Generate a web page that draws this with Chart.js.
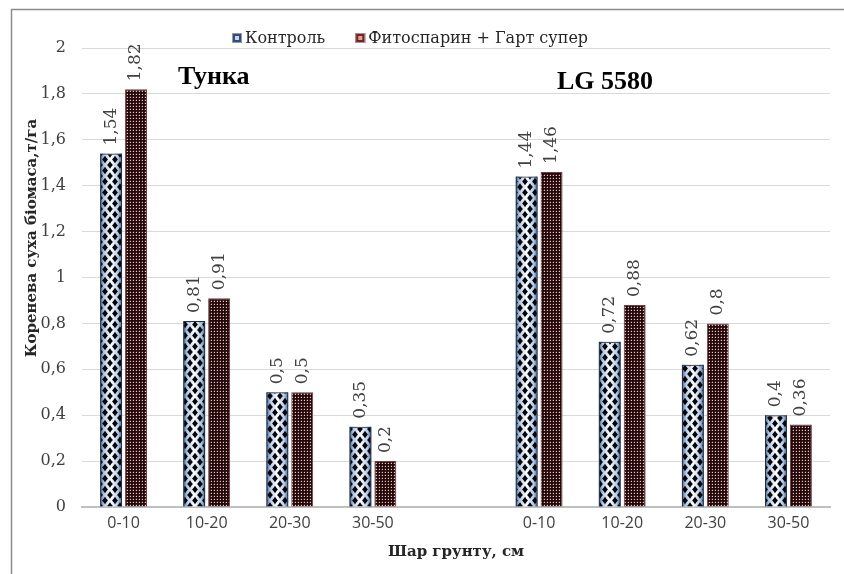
<!DOCTYPE html>
<html>
<head>
<meta charset="utf-8">
<title>Коренева суха біомаса</title>
<script src="https://cdn.jsdelivr.net/npm/chart.js@4.4.1/dist/chart.umd.min.js"></script>
<style>
  body { margin: 0; background: #fff; }
  canvas { display: block; }
</style>
</head>
<body>
<canvas id="myChart" width="844" height="574"></canvas>
<script>
// дані з графіка
const categories = ['0-10', '10-20', '20-30', '30-50', '', '0-10', '10-20', '20-30', '30-50'];
const control = [1.54, 0.81, 0.5, 0.35, null, 1.44, 0.72, 0.62, 0.4];
const fito = [1.82, 0.91, 0.5, 0.2, null, 1.46, 0.88, 0.8, 0.36];
const seriesNames = ['Контроль', 'Фитоспарин + Гарт супер'];
const groupTitles = ['Тунка', 'LG 5580'];
const yTitle = 'Коренева суха біомаса,т/га';
const xTitle = 'Шар грунту, см';

const serif = '"DejaVu Serif", serif';

function fmt(v) {
    return String(Number(v.toFixed(2))).replace('.', ',');
}

// візерунок "ромби" для контролю (фон малюється градієнтом окремо)
function diamondPattern() {
    const c = document.createElement('canvas');
    c.width = 10; c.height = 11;
    const g = c.getContext('2d');
    g.fillStyle = '#03050a';
    const pts = [[5, 5.5], [0, 0], [10, 0], [0, 11], [10, 11]];
    const w = 2.9, h = 3.7, k = 0.45;
    pts.forEach(p => {
        const [x, y] = p;
        g.beginPath();
        g.moveTo(x, y - h);
        g.quadraticCurveTo(x + w * k, y - h * k, x + w, y);
        g.quadraticCurveTo(x + w * k, y + h * k, x, y + h);
        g.quadraticCurveTo(x - w * k, y + h * k, x - w, y);
        g.quadraticCurveTo(x - w * k, y - h * k, x, y - h);
        g.closePath();
        g.fill();
    });
    return g.createPattern(c, 'repeat');
}

// дрібна сітка з точками для другої серії
function dotPattern() {
    const c = document.createElement('canvas');
    c.width = 3; c.height = 3;
    const g = c.getContext('2d');
    g.fillStyle = '#1e0b0b';
    g.fillRect(0, 0, 3, 3);
    g.fillStyle = '#5e2828';
    g.fillRect(0, 1, 1, 1);
    g.fillRect(1, 0, 1, 1);
    g.fillStyle = '#ecc4c4';
    g.fillRect(1, 1, 1, 1);
    return g.createPattern(c, 'repeat');
}

const ctx = document.getElementById('myChart');
const diamonds = diamondPattern();
const dots = dotPattern();

const extras = {
    id: 'extras',
    beforeDraw(chart) {
        const c = chart.ctx;
        c.save();
        c.strokeStyle = '#8c8c8c';
        c.lineWidth = 1.5;
        c.beginPath();
        c.moveTo(11.5, 600);
        c.lineTo(11.5, 9.5);
        c.lineTo(900, 9.5);
        c.stroke();
        c.restore();
    },
    beforeDatasetsDraw(chart) {
        // блакитний градієнт під ромбами
        const c = chart.ctx;
        const meta = chart.getDatasetMeta(0);
        c.save();
        meta.data.forEach((bar, i) => {
            if (control[i] == null) return;
            const p = bar.getProps(['x', 'y', 'base', 'width'], true);
            const l = p.x - p.width / 2;
            const gr = c.createLinearGradient(l, 0, l + p.width, 0);
            gr.addColorStop(0, '#3f5f8c');
            gr.addColorStop(0.18, '#b4c9e4');
            gr.addColorStop(0.5, '#ffffff');
            gr.addColorStop(0.82, '#b4c9e4');
            gr.addColorStop(1, '#3f5f8c');
            c.fillStyle = gr;
            c.fillRect(l, p.y, p.width, p.base - p.y);
        });
        c.restore();
    },
    afterDatasetsDraw(chart) {
        const c = chart.ctx;
        c.save();
        c.font = '17px ' + serif;
        c.fillStyle = '#404040';
        c.textAlign = 'left';
        c.textBaseline = 'middle';
        chart.data.datasets.forEach((ds, di) => {
            chart.getDatasetMeta(di).data.forEach((bar, i) => {
                const v = ds.data[i];
                if (v == null) return;
                c.save();
                c.translate(bar.x, bar.y - 8);
                c.rotate(-Math.PI / 2);
                c.fillText(fmt(v), 0, 0);
                c.restore();
            });
        });

        // назви сортів
        c.font = 'bold 26px "Liberation Serif", serif';
        c.fillStyle = '#000';
        c.textBaseline = 'alphabetic';
        c.fillText(groupTitles[0], 178, 84);
        c.fillText(groupTitles[1], 557, 89);

        // легенда
        c.font = '16px ' + serif;
        c.textBaseline = 'middle';
        const fills = [['#2f4f80', '#c7d5ea'], ['#7a2222', '#e0a0a0']];
        let x = 232;
        seriesNames.forEach((name, i) => {
            c.fillStyle = fills[i][0];
            c.fillRect(x, 33, 10, 10);
            c.fillStyle = fills[i][1];
            c.fillRect(x + 3, 36, 4, 4);
            c.strokeStyle = '#9a9a9a';
            c.lineWidth = 1;
            c.strokeRect(x + 0.5, 33.5, 9, 9);
            c.fillStyle = '#262626';
            c.fillText(name, x + 13, 39);
            x += 13 + c.measureText(name).width + 30;
        });

        // підпис осі Y
        c.font = 'bold 15px ' + serif;
        c.fillStyle = '#262626';
        c.textAlign = 'center';
        c.translate(32, 238);
        c.rotate(-Math.PI / 2);
        c.fillText(yTitle, 0, 0);
        c.restore();
    }
};

new Chart(ctx, {
    type: 'bar',
    data: {
        labels: categories,
        datasets: [
            {
                label: seriesNames[0],
                data: control,
                backgroundColor: diamonds,
                borderColor: '#26303d',
                borderWidth: 1,
                categoryPercentage: 0.6,
                barPercentage: 0.88
            },
            {
                label: seriesNames[1],
                data: fito,
                backgroundColor: dots,
                borderColor: '#6e3c3c',
                borderWidth: 1,
                categoryPercentage: 0.6,
                barPercentage: 0.88
            }
        ]
    },
    options: {
        responsive: false,
        animation: false,
        devicePixelRatio: 1,
        layout: { padding: { top: 48, right: 14, bottom: 0, left: 0 } },
        plugins: {
            legend: { display: false },
            tooltip: { enabled: false }
        },
        scales: {
            x: {
                afterFit: s => { s.height = 67; },
                grid: { display: false, drawTicks: false },
                border: { color: '#bfbfbf', width: 2 },
                ticks: {
                    padding: 7,
                    autoSkip: false,
                    maxRotation: 0,
                    color: '#404040',
                    font: { family: '"Open Sans", sans-serif', size: 16 }
                },
                title: {
                    display: true,
                    text: xTitle,
                    color: '#262626',
                    font: { family: serif, size: 15, weight: 'bold' },
                    padding: { top: 0, bottom: 13 }
                }
            },
            y: {
                min: 0,
                max: 2,
                afterFit: s => { s.width = 82; },
                grid: { color: '#d9d9d9', lineWidth: 1, drawTicks: false },
                border: { display: false },
                ticks: {
                    stepSize: 0.2,
                    padding: 16,
                    color: '#404040',
                    font: { family: serif, size: 16 },
                    callback: v => fmt(v)
                }
            }
        }
    },
    plugins: [extras]
});
</script>
</body>
</html>
